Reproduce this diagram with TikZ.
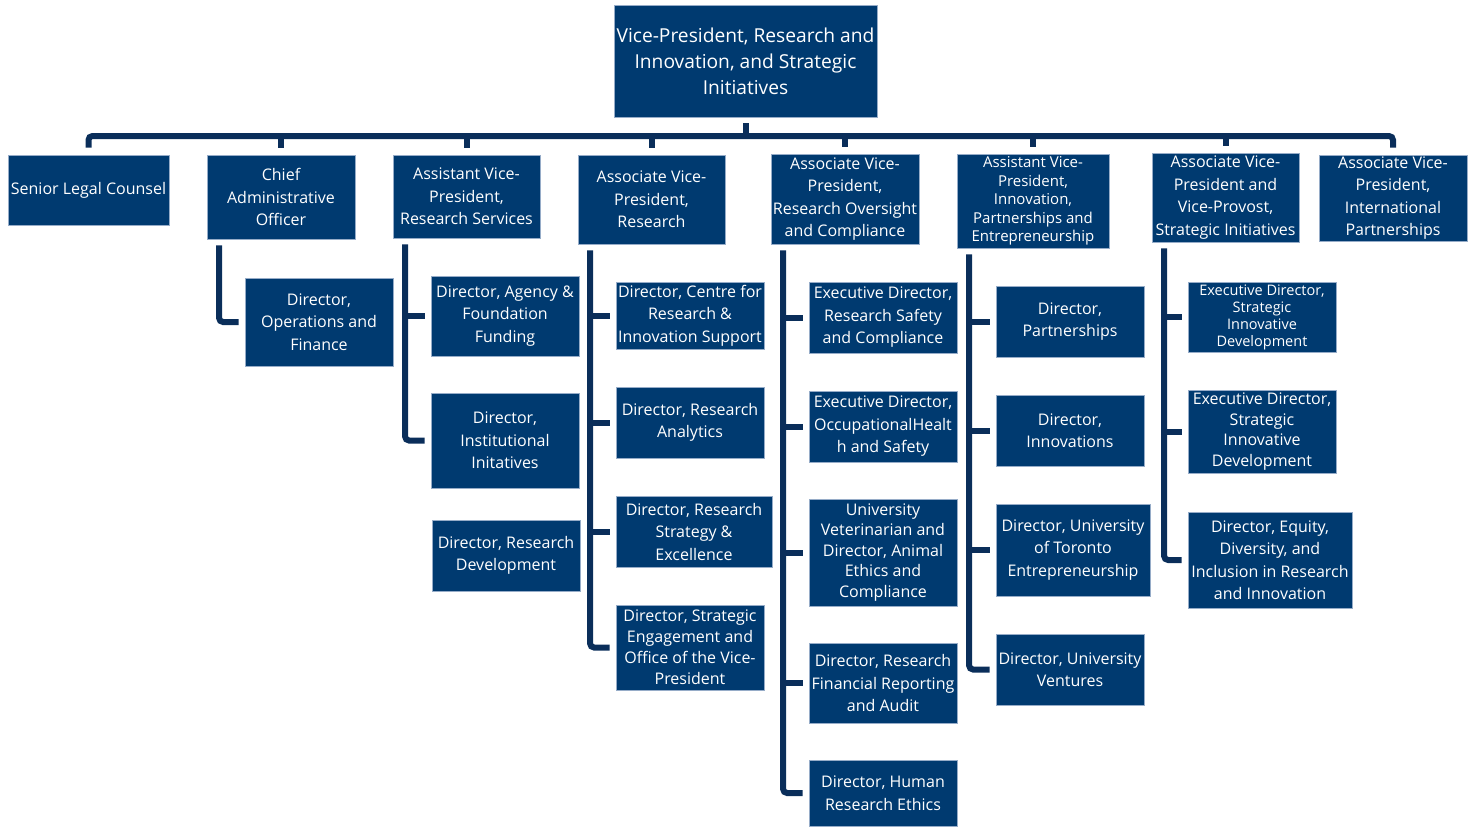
\documentclass[tikz,border=0pt]{standalone}
\usepackage{fontspec}
\setmainfont{Open Sans}
\usetikzlibrary{calc}
\definecolor{boxfill}{RGB}{0,58,112}
\definecolor{linecol}{RGB}{10,46,90}
\definecolor{edgecol}{RGB}{150,172,200}
\tikzset{
  orgbox/.style={rectangle, fill=boxfill, draw=edgecol, line width=0.8pt, inner sep=0pt},
  orgtxt/.style={text=white, align=center, inner sep=0pt, font=\fontsize{16}{22.5}\selectfont},
  conn/.style={draw=linecol, line width=6pt, rounded corners=4pt},
}
\newcommand\obox[7][]{%
  \pgfmathsetmacro\bw{#5-#3}\pgfmathsetmacro\bh{#6-#4}%
  \node[orgbox, minimum width=\bw pt, minimum height=\bh pt] (#2) at ({(#3+#5)/2},{(#4+#6)/2}) {};
  \node[orgtxt,#1] (#2-t) at (#2.center) {#7};}
\begin{document}
\begin{tikzpicture}[x=1pt,y=-1pt]
\useasboundingbox (0,0) rectangle (1472,827);
% top
\obox[font=\fontsize{19.2}{26}\selectfont]{vp}{614}{5}{877}{117}{Vice-President, Research and\\Innovation, and Strategic\\Initiatives}
% level 1
\obox{slc}{8}{155}{169}{225}{Senior Legal Counsel}
\obox{cao}{207}{155}{355}{239}{Chief\\Administrative\\Officer}
\obox{avprs}{393}{155}{540}{238}{Assistant Vice-\\President,\\Research Services}
\obox{avpr}{578}{155}{725}{244}{Associate Vice-\\President,\\Research}
\obox{avpro}{771}{154}{919}{244}{Associate Vice-\\President,\\Research Oversight\\and Compliance}
\obox[font=\fontsize{15}{18.4}\selectfont]{avpi}{957}{154}{1109}{248}{Assistant Vice-\\President,\\Innovation,\\Partnerships and\\Entrepreneurship}
\obox{avpvp}{1152}{153}{1299}{242}{Associate Vice-\\President and\\Vice-Provost,\\Strategic Initiatives}
\obox{avpip}{1319}{155}{1467}{241}{Associate Vice-\\President,\\International\\Partnerships}
% level 2
\obox{dof}{245}{278}{393}{366}{Director,\\Operations and\\Finance}
\obox{dafa}{431}{276}{579}{356}{Director, Agency \&\\Foundation\\Funding}
\obox{dii}{431}{393}{579}{488}{Director,\\Institutional\\Initatives}
\obox{drd}{432}{520}{580}{591}{Director, Research\\Development}
\obox{dcris}{616}{282}{764}{349}{Director, Centre for\\Research \&\\Innovation Support}
\obox{dra}{616}{387}{764}{458}{Director, Research\\Analytics}
\obox{drse}{616}{496}{772}{567}{Director, Research\\Strategy \&\\Excellence}
\obox[font=\fontsize{16}{21}\selectfont]{dse}{616}{605}{764}{690}{Director, Strategic\\Engagement and\\Office of the Vice-\\President}
\obox{edrs}{809}{282}{957}{353}{Executive Director,\\Research Safety\\and Compliance}
\obox{edohs}{809}{391}{957}{462}{Executive Director,\\OccupationalHealt\\h and Safety}
\obox[font=\fontsize{16}{20.5}\selectfont]{uvet}{809}{499}{957}{606}{University\\Veterinarian and\\Director, Animal\\Ethics and\\Compliance}
\obox{drfra}{809}{643}{957}{723}{Director, Research\\Financial Reporting\\and Audit}
\obox{dhre}{809}{760}{957}{826}{Director, Human\\Research Ethics}
\obox{dp}{996}{286}{1144}{357}{Director,\\Partnerships}
\obox{di}{996}{395}{1144}{466}{Director,\\Innovations}
\obox{dute}{996}{504}{1150}{596}{Director, University\\of Toronto\\Entrepreneurship}
\obox{duv}{996}{634}{1144}{705}{Director, University\\Ventures}
\obox[font=\fontsize{14.5}{17}\selectfont]{eds1}{1188}{282}{1336}{352}{Executive Director,\\Strategic\\Innovative\\Development}
\obox[font=\fontsize{16}{20.5}\selectfont]{eds2}{1188}{390}{1336}{473}{Executive Director,\\Strategic\\Innovative\\Development}
\obox{dedi}{1188}{512}{1352}{608}{Director, Equity,\\Diversity, and\\Inclusion in Research\\and Innovation}
% bus
\coordinate (bus) at (0,136);
\draw[conn, shorten <=6pt] (vp.south) -- (vp.south |- bus);
\draw[conn, shorten <=7pt, shorten >=7pt] (slc.north) -- (slc.north |- bus) -- (avpip.north |- bus) -- (avpip.north);
\foreach \n in {cao,avprs,avpr,avpro,avpi,avpvp}
  \draw[conn, shorten >=7pt] (\n.north |- bus) -- (\n.north);
% trunks
\foreach \n in {cao,avprs,avpr,avpro,avpi,avpvp}
  \coordinate (\n T) at ($(\n.south west)+(12.5,6)$);
\draw[conn, shorten >=6pt] (caoT) |- (dof.west);
\draw[conn, shorten >=6pt] (avprsT) |- (dii.west);
\draw[conn, shorten >=6pt] (avprsT |- dafa.west) -- (dafa.west);
\draw[conn, shorten >=6pt] (avprT) |- (dse.west);
\foreach \c in {dcris,dra,drse}
  \draw[conn, shorten >=6pt] (avprT |- \c.west) -- (\c.west);
\draw[conn, shorten >=6pt] (avproT) |- (dhre.west);
\foreach \c in {edrs,edohs,uvet,drfra}
  \draw[conn, shorten >=6pt] (avproT |- \c.west) -- (\c.west);
\draw[conn, shorten >=6pt] (avpiT) |- (duv.west);
\foreach \c in {dp,di,dute}
  \draw[conn, shorten >=6pt] (avpiT |- \c.west) -- (\c.west);
\draw[conn, shorten >=6pt] (avpvpT) |- (dedi.west);
\foreach \c in {eds1,eds2}
  \draw[conn, shorten >=6pt] (avpvpT |- \c.west) -- (\c.west);
\end{tikzpicture}
\end{document}
